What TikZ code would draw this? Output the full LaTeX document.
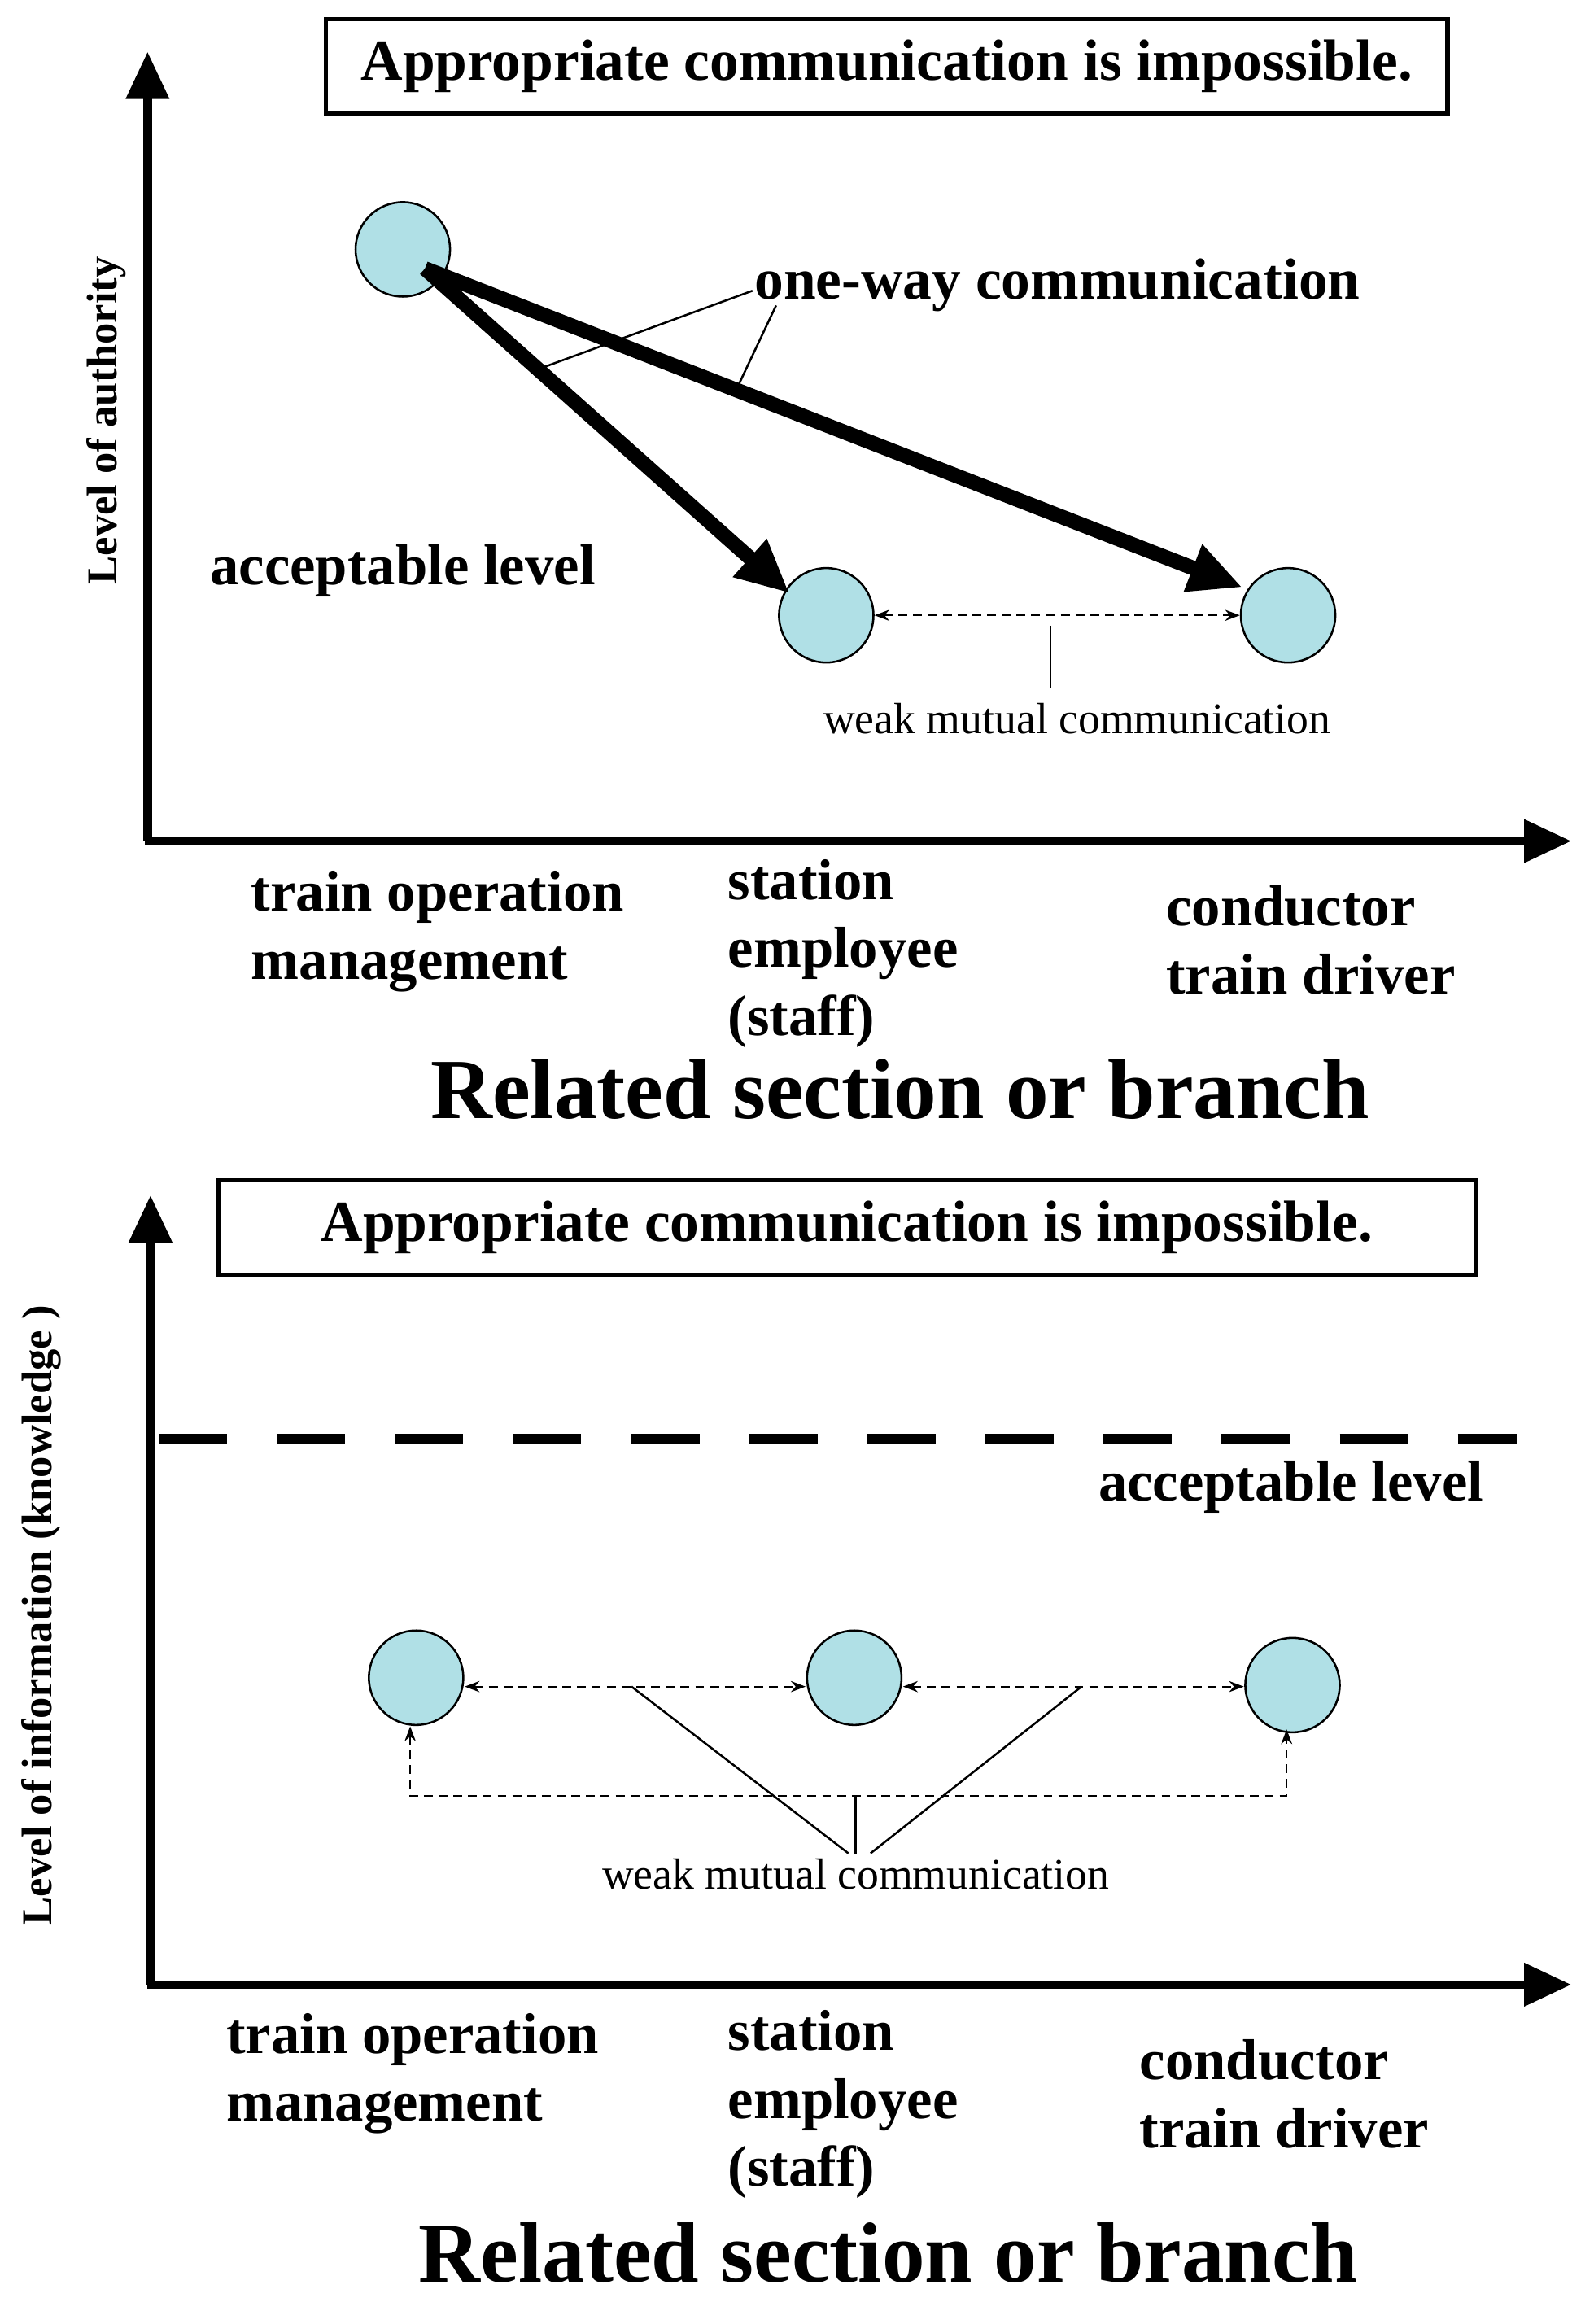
\documentclass[tikz,border=0pt]{standalone}
\usepackage{fontspec}
\setmainfont{Liberation Serif}
\usetikzlibrary{arrows.meta}
\definecolor{cfill}{RGB}{176,224,230}
\begin{document}
\begin{tikzpicture}[x=0.5pt,y=-0.5pt,
 ax/.style={line width=3pt,-{Triangle[length=16pt,width=14pt]}},
 circ/.style={circle,draw,fill=cfill,minimum size=32pt,inner sep=0pt,line width=0.7pt},
 big/.style={-{Triangle[length=18pt,width=16pt]},line width=5pt},
 weak/.style={densely dashed,line width=0.6pt,{Stealth[length=5pt]}-{Stealth[length=5pt]}},
 lbl/.style={font=\fontsize{19.5}{23}\selectfont\bfseries,align=left,anchor=north west,inner sep=0pt},
 ttl/.style={draw,line width=1.5pt,minimum height=32pt,font=\fontsize{19.7}{23}\selectfont\bfseries},
 wk/.style={font=\fontsize{14.8}{17}\selectfont},
 yl/.style={rotate=90,font=\fontsize{14.5}{16}\selectfont\bfseries},
 rel/.style={font=\fontsize{29}{33}\selectfont\bfseries},
 acc/.style={font=\fontsize{19.5}{22}\selectfont\bfseries}]
\useasboundingbox (0,0) rectangle (1080,1575);
% ---- top panel
\draw[ax] (100,570) -- (100,35);
\draw[ax] (98,570) -- (1065,570);
\node[ttl,minimum width=380pt] (b1) at (601,45) {Appropriate communication is impossible.};
\node[circ] (a1) at (273,169) {};
\node[circ] (a2) at (560,417) {};
\node[circ] (a3) at (873,417) {};
\coordinate (s1) at (288,182);
\draw[big] (s1) -- (535,402);
\draw[big] (s1) -- (842,398);
\node[font=\fontsize{19.7}{23}\selectfont\bfseries,anchor=west,inner sep=0pt] (ow) at (511,193) {one-way communication};
\draw[line width=0.7pt] (510,197) -- (368,249);
\draw[line width=0.7pt] (526,207) -- (500,262);
\node[acc] (acc1) at (273,387) {acceptable level};
\draw[weak] (a2) -- (a3);
\draw[line width=0.6pt] (712,424) -- (712,466);
\node[wk] (w1) at (730,487) {weak mutual communication};
\node[yl] (y1) at (72,285) {Level of authority};
\node[lbl] (x11) at (170,590) {train operation\\management};
\node[lbl] (x12) at (493,582) {station\\employee\\(staff)};
\node[lbl] (x13) at (790,600) {conductor\\train driver};
\node[rel] (r1) at (610,738) {Related section or branch};
% ---- bottom panel
\draw[ax] (102,1345) -- (102,810);
\draw[ax] (100,1345) -- (1065,1345);
\node[ttl,minimum width=426pt] (b2) at (574,832) {Appropriate communication is impossible.};
\draw[line width=3.5pt,dash pattern=on 23pt off 17pt] (108,975) -- (1028,975);
\node[acc] (acc2) at (875,1008) {acceptable level};
\node[circ] (c1) at (282,1137) {};
\node[circ] (c2) at (579,1137) {};
\node[circ] (c3) at (876,1142) {};
\draw[weak] (315,1143) -- (546,1143);
\draw[weak] (612,1143) -- (843,1143);
\draw[weak] (278,1170) |- (872,1217) -- (872,1172);
\draw[line width=0.7pt] (428,1143) -- (575,1256);
\draw[line width=0.7pt] (733,1143) -- (590,1256);
\draw[line width=0.7pt] (580,1217) -- (580,1256);
\node[wk] (w2) at (580,1270) {weak mutual communication};
\node[yl] (y2) at (28,1095) {Level of information (knowledge )};
\node[lbl] (x21) at (153,1364) {train operation\\management};
\node[lbl] (x22) at (493,1362) {station\\employee\\(staff)};
\node[lbl] (x23) at (772,1382) {conductor\\train driver};
\node[rel] (r2) at (602,1527) {Related section or branch};
\end{tikzpicture}
\end{document}
